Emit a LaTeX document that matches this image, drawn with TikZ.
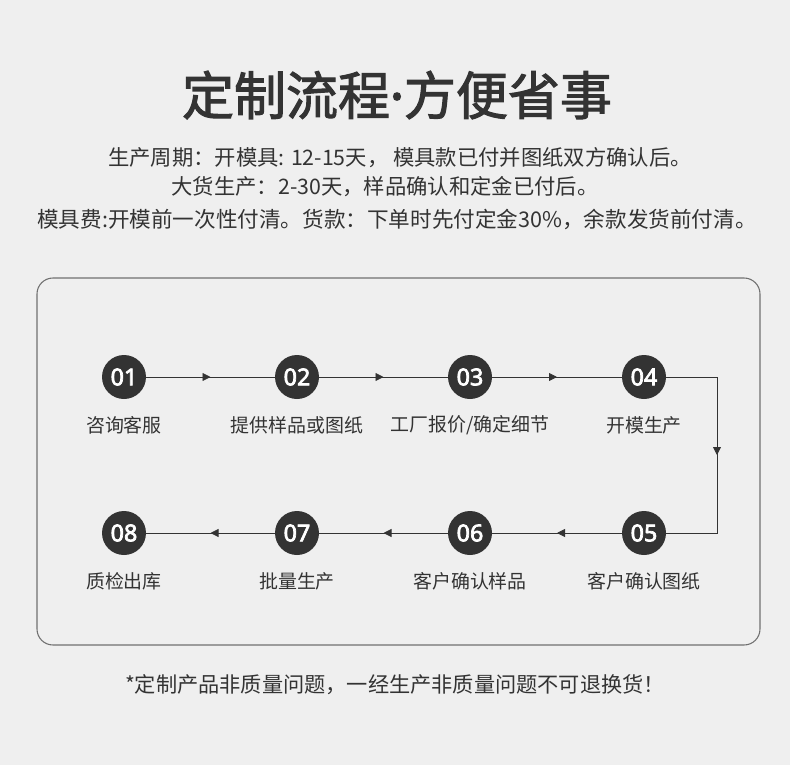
\documentclass[tikz,border=0pt]{standalone}
\usepackage{fontspec}
\setmainfont{Noto Sans CJK SC}
\newfontfamily\cjkb{Noto Sans CJK SC}[FakeBold=2]
\newfontfamily\numf{Noto Sans}[FakeBold=3]
\usetikzlibrary{decorations.markings,arrows.meta}
\definecolor{bg}{HTML}{EFEFEF}
\definecolor{dk}{HTML}{333333}
\begin{document}
\begin{tikzpicture}[x=0.75pt,y=-0.75pt,
  num/.style={circle,fill=dk,minimum size=33pt,inner sep=0pt,text=white,font=\numf\fontsize{17.5}{17.5}\selectfont},
  lab/.style={text=dk,font=\fontsize{14.2}{14.2}\selectfont},
  conn/.style={dk,line width=0.6pt,postaction={decorate},decoration={markings,mark=at position #1 with {\arrow{Triangle[length=6pt,width=6pt]}}}}]
\fill[bg] (0,0) rectangle (790,765);
\useasboundingbox (0,0) rectangle (790,765);
\node[text=dk,font=\cjkb\fontsize{39}{39}\selectfont] (title) at (397,95) {定制流程{\numf ·}方便省事};
\node[text=dk,font=\fontsize{16}{16}\selectfont] (l1) at (400,158) {生产周期：开模具: 12-15天， 模具款已付并图纸双方确认后。};
\node[text=dk,font=\fontsize{16}{16}\selectfont] (l2) at (385,187) {大货生产：2-30天，样品确认和定金已付后。};
\node[text=dk,font=\fontsize{16.2}{16.2}\selectfont] (l3) at (397,219) {模具费:开模前一次性付清。货款：下单时先付定金30\%，余款发货前付清。};
\draw[dk!70,line width=0.8pt,rounded corners=12pt] (37,278) rectangle (760,645);
\foreach \n/\x/\y/\t in {1/124/377/{咨询客服},2/297/377/{提供样品或图纸},3/470/377/{工厂报价/确定细节},4/644/377/{开模生产},5/644/533/{客户确认图纸},6/470/533/{客户确认样品},7/297/533/{批量生产},8/124/533/{质检出库}}{
  \node[num] (n\n) at (\x,\y) {0\n};
  \node[lab] (t\n) at (\x,\y+48) {\t};
}
\draw[conn=0.5] (n1) -- (n2);
\draw[conn=0.5] (n2) -- (n3);
\draw[conn=0.5] (n3) -- (n4);
\coordinate (r1) at (717,377);
\coordinate (r2) at (717,533);
\draw[conn=0.5] (n4.east) -- (r1) -- (r2) -- (n5.east);
\draw[conn=0.5] (n5) -- (n6);
\draw[conn=0.5] (n6) -- (n7);
\draw[conn=0.5] (n7) -- (n8);
\node[text=dk,font=\fontsize{15.9}{15.9}\selectfont] (foot) at (395,685) {*定制产品非质量问题，一经生产非质量问题不可退换货！};
\end{tikzpicture}
\end{document}
